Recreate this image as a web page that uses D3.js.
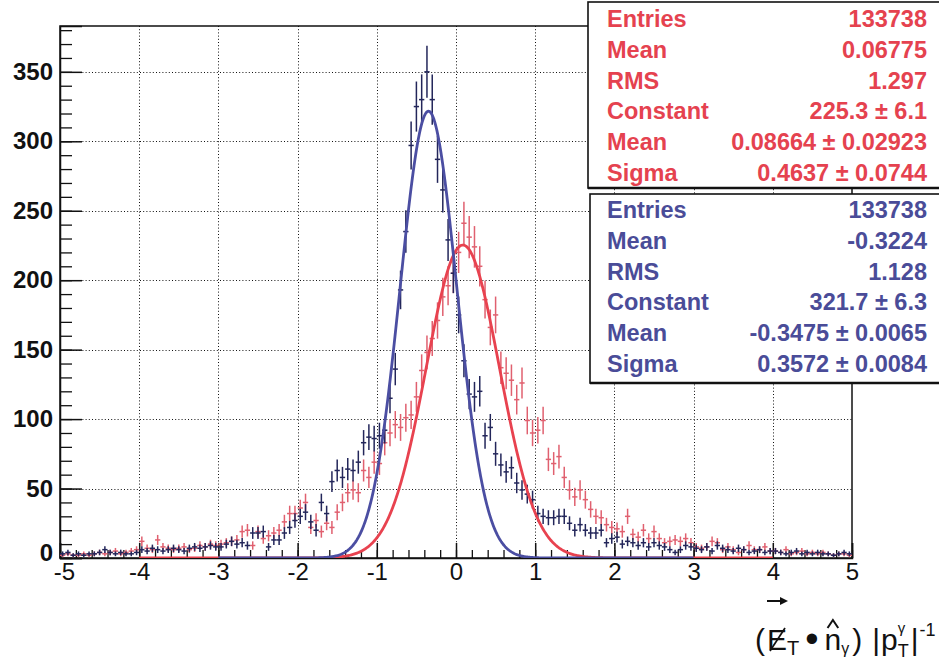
<!DOCTYPE html>
<html><head><meta charset="utf-8">
<script src="https://cdn.jsdelivr.net/npm/d3@7"></script>
<style>body{margin:0;background:#fff}svg{display:block}</style>
</head><body>
<svg id="c" width="939" height="664"></svg>
<script>
// ---------------- data ----------------
const xDomain = [-5, 5];
const nBins = 150;
const blueCounts = [
 3,4,2,3,2,3,3,4,6,4,3,4,3,3,4,
 6,5,7,6,5,6,7,6,5,7,8,7,8,9,8,
 8,10,12,10,11,9,18,18,19,8,13,13,18,22,27,
 30,33,26,20,40,32,55,63,58,64,63,69,83,87,86,
 88,92,115,136,193,235,297,325,330,350,330,287,265,229,205,
 175,142,118,116,120,88,94,75,67,62,65,54,49,46,42,
 32,30,29,29,30,30,25,20,24,20,18,18,20,11,14,
 15,10,12,11,9,11,8,11,9,8,6,4,6,9,8,
 7,6,8,5,9,7,6,5,7,6,4,5,6,4,5,
 5,4,3,4,5,3,4,3,4,3,3,2,3,4,3
];
const redCounts = [
 2,3,2,2,3,2,3,4,3,4,5,3,4,5,6,
 12,7,6,13,8,7,6,7,8,6,7,9,8,10,9,
 10,11,12,13,19,20,9,19,14,16,18,20,26,32,32,
 36,40,22,27,19,25,22,33,40,47,49,47,63,58,69,
 68,83,90,96,94,101,103,116,135,148,158,171,188,196,205,
 220,241,231,224,210,186,166,175,137,133,128,114,126,99,90,
 92,99,71,68,73,58,49,44,49,42,35,30,29,24,22,
 21,19,30,17,15,20,14,19,14,11,12,13,12,14,11,
 8,7,8,12,11,6,8,6,4,6,9,6,6,8,5,
 5,4,6,3,4,5,3,4,3,4,3,2,3,3,2
];
// Gaussian fit parameters (red, blue) and fit ranges
const fitConstant = [225.3, 321.7];
const fitMean = [0.08664, -0.3475];
const fitSigma = [0.4637, 0.3572];
const fitRange = [[-4, 4], [-3, 3]];

const xTickValues = [-5,-4,-3,-2,-1,0,1,2,3,4,5];
const xTickLabels = ["-5","-4","-3","-2","-1","0","1","2","3","4","5"];
const yTickValues = [0,50,100,150,200,250,300,350];
const yTickLabels = ["0","50","100","150","200","250","300","350"];

const redStatNames = ["Entries","Mean","RMS","Constant","Mean","Sigma"];
const redStatValues = ["133738","0.06775","1.297","225.3 \u00b1 6.1","0.08664 \u00b1 0.02923","0.4637 \u00b1 0.0744"];
const blueStatNames = ["Entries","Mean","RMS","Constant","Mean","Sigma"];
const blueStatValues = ["133738","-0.3224","1.128","321.7 \u00b1 6.3","-0.3475 \u00b1 0.0065","0.3572 \u00b1 0.0084"];

// ---------------- styles ----------------
const RED_LINE = "#e8424f", BLUE_LINE = "#4b4ea2";
const RED_PTS = "#e0606f", BLUE_PTS = "#23265a";
const RED_TXT = "#e5424f", BLUE_TXT = "#4a4c98";
const FONT = "'Liberation Sans', Arial, Helvetica, sans-serif";

const svg = d3.select("#c");
const L = 60, R = 852, T = 26, B = 558;
const x = d3.scaleLinear().domain(xDomain).range([L, R]);
const y = d3.scaleLinear().domain([0, 383]).range([B, T]);

svg.append("defs").append("clipPath").attr("id","pc")
  .append("rect").attr("x",L).attr("y",T).attr("width",R-L).attr("height",B-T);

// grid
const grid = svg.append("g").attr("stroke","#111").attr("stroke-width",1).attr("stroke-dasharray","1,2.2");
grid.selectAll("line.gx").data(xTickValues.slice(1,-1)).join("line")
  .attr("x1",d=>Math.round(x(d))+0.5).attr("x2",d=>Math.round(x(d))+0.5).attr("y1",T).attr("y2",B);
grid.selectAll("line.gy").data(yTickValues.slice(1)).join("line")
  .attr("y1",d=>Math.round(y(d))+0.5).attr("y2",d=>Math.round(y(d))+0.5).attr("x1",L).attr("x2",R);

// frame
svg.append("rect").attr("x",L).attr("y",T).attr("width",R-L).attr("height",B-T)
  .attr("fill","none").attr("stroke","#111").attr("stroke-width",1.5);

// axes
const xMinor = d3.range(-5, 5.0001, 0.2).map(v=>+v.toFixed(2));
svg.append("g").attr("transform",`translate(0,${B})`)
  .call(d3.axisBottom(x).tickValues(xMinor).tickSize(-8).tickFormat(""))
  .call(g=>{g.select(".domain").remove(); g.selectAll("line").attr("stroke","#111").attr("stroke-width",1.3);});
svg.append("g").attr("transform",`translate(0,${B})`)
  .call(d3.axisBottom(x).tickValues(xTickValues).tickSize(-15).tickPadding(5)
        .tickFormat((d,i)=>xTickLabels[i]))
  .call(g=>{g.select(".domain").attr("stroke","#111").attr("stroke-width",1.5);
            g.selectAll("line").attr("stroke","#111").attr("stroke-width",1.5);
            g.selectAll("text").attr("font-family",FONT).attr("font-size",24).attr("fill","#111")
              .attr("dx",(d)=> d===-5 ? 4 : 0);});
const yMinor = d3.range(0, 381, 10);
svg.append("g").attr("transform",`translate(${L},0)`)
  .call(d3.axisLeft(y).tickValues(yMinor).tickSize(-12).tickFormat(""))
  .call(g=>{g.select(".domain").remove(); g.selectAll("line").attr("stroke","#111").attr("stroke-width",1.3);});
svg.append("g").attr("transform",`translate(${L},0)`)
  .call(d3.axisLeft(y).tickValues(yTickValues).tickSize(-22).tickPadding(7)
        .tickFormat((d,i)=>yTickLabels[i]))
  .call(g=>{g.select(".domain").attr("stroke","#111").attr("stroke-width",1.5);
            g.selectAll("line").attr("stroke","#111").attr("stroke-width",1.5);
            g.selectAll("text").attr("font-family",FONT).attr("font-size",24)
              .attr("font-weight","bold").attr("fill","#111")
              .attr("dy",(d)=> d===0 ? "0.12em" : "0.32em");});

// data points (histogram with error bars)
const bw = (xDomain[1]-xDomain[0]) / nBins;
function drawHist(counts, color){
  const pts = counts.map((v,i)=>({lo: xDomain[0]+i*bw, hi: xDomain[0]+(i+1)*bw, v}));
  const g = svg.append("g").attr("clip-path","url(#pc)").attr("stroke",color).attr("stroke-width",1.5);
  g.selectAll("line.h").data(pts).join("line")
    .attr("x1",d=>x(d.lo)).attr("x2",d=>x(d.hi)).attr("y1",d=>y(d.v)).attr("y2",d=>y(d.v));
  g.selectAll("line.v").data(pts).join("line")
    .attr("x1",d=>x((d.lo+d.hi)/2)).attr("x2",d=>x((d.lo+d.hi)/2))
    .attr("y1",d=>y(Math.max(0,d.v-Math.sqrt(d.v)))).attr("y2",d=>y(d.v+Math.sqrt(d.v)));
}
drawHist(redCounts, RED_PTS);
drawHist(blueCounts, BLUE_PTS);

// fit curves
function drawFit(k, color){
  const xs = d3.range(fitRange[k][0], fitRange[k][1]+1e-9, 0.01);
  const line = d3.line().x(d=>x(d)).y(d=>y(fitConstant[k]*Math.exp(-0.5*Math.pow((d-fitMean[k])/fitSigma[k],2))));
  svg.append("path").attr("clip-path","url(#pc)").attr("d",line(xs))
    .attr("fill","none").attr("stroke",color).attr("stroke-width",2.8);
}
drawFit(0, RED_LINE);
drawFit(1, BLUE_LINE);

// stat boxes
function statBox(x0, y0, h, names, values, color, baseline0){
  const g = svg.append("g");
  g.append("rect").attr("x",x0).attr("y",y0).attr("width",400).attr("height",h)
    .attr("fill","#fff").attr("stroke","#111").attr("stroke-width",1.6);
  g.append("line").attr("x1",x0).attr("x2",939).attr("y1",y0+h).attr("y2",y0+h)
    .attr("stroke","#111").attr("stroke-width",2.4);
  names.forEach((n,i)=>{
    g.append("text").attr("x",607).attr("y",baseline0+i*30.8).text(n)
      .attr("font-family",FONT).attr("font-weight","bold").attr("font-size",23.5).attr("fill",color);
    g.append("text").attr("x",927).attr("y",baseline0+i*30.8).text(values[i]).attr("text-anchor","end")
      .attr("font-family",FONT).attr("font-weight","bold").attr("font-size",23.5).attr("fill",color);
  });
}
statBox(588, 2, 186, redStatNames, redStatValues, RED_TXT, 27);
statBox(590, 194, 189, blueStatNames, blueStatValues, BLUE_TXT, 218);

// axis title: (E̸_T • n̂_γ) |p_T^γ|^-1
const tg = svg.append("g").attr("font-family",FONT).attr("fill","#111");
const base = 650;
let cx = 755;
function piece(t, size, dy, opts={}){
  const el = tg.append("text").attr("x",cx).attr("y",base+dy).attr("font-size",size).text(t);
  const w = el.node().getComputedTextLength();
  const info = {x: cx, w};
  if(!opts.stack) cx += w + (opts.gap||0);
  return info;
}
piece("(",30,0,{gap:2});
const eInfo = piece("E",30,0);
piece("T",20,5,{gap:6});
piece("\u2022",38,2,{gap:6});
const nInfo = piece("n",30,0);
piece("\u03b3",16,4,{gap:3});
piece(")",30,0,{gap:10});
piece("|",30,0,{gap:1});
piece("p",30,0);
const tInfo = piece("T",18,7,{stack:true});
piece("\u03b3",15,-17);
cx = Math.max(cx, tInfo.x + tInfo.w) + 2;
piece("|",30,0,{gap:1});
piece("-1",18,-14);
// slash through E
tg.append("line").attr("x1",eInfo.x+3).attr("y1",base+1).attr("x2",eInfo.x+eInfo.w-2).attr("y2",base-22)
  .attr("stroke","#111").attr("stroke-width",1.7);
// arrow above E
tg.append("line").attr("x1",eInfo.x).attr("x2",eInfo.x+eInfo.w-3).attr("y1",601).attr("y2",601)
  .attr("stroke","#111").attr("stroke-width",2);
tg.append("path").attr("d",`M${eInfo.x+eInfo.w-7},597 L${eInfo.x+eInfo.w+1},601 L${eInfo.x+eInfo.w-7},605 Z`).attr("fill","#111");
// hat on n
tg.append("path").attr("d",`M${nInfo.x+3},628 L${nInfo.x+nInfo.w/2},620 L${nInfo.x+nInfo.w-3},628`)
  .attr("fill","none").attr("stroke","#111").attr("stroke-width",2);
</script>
</body></html>
